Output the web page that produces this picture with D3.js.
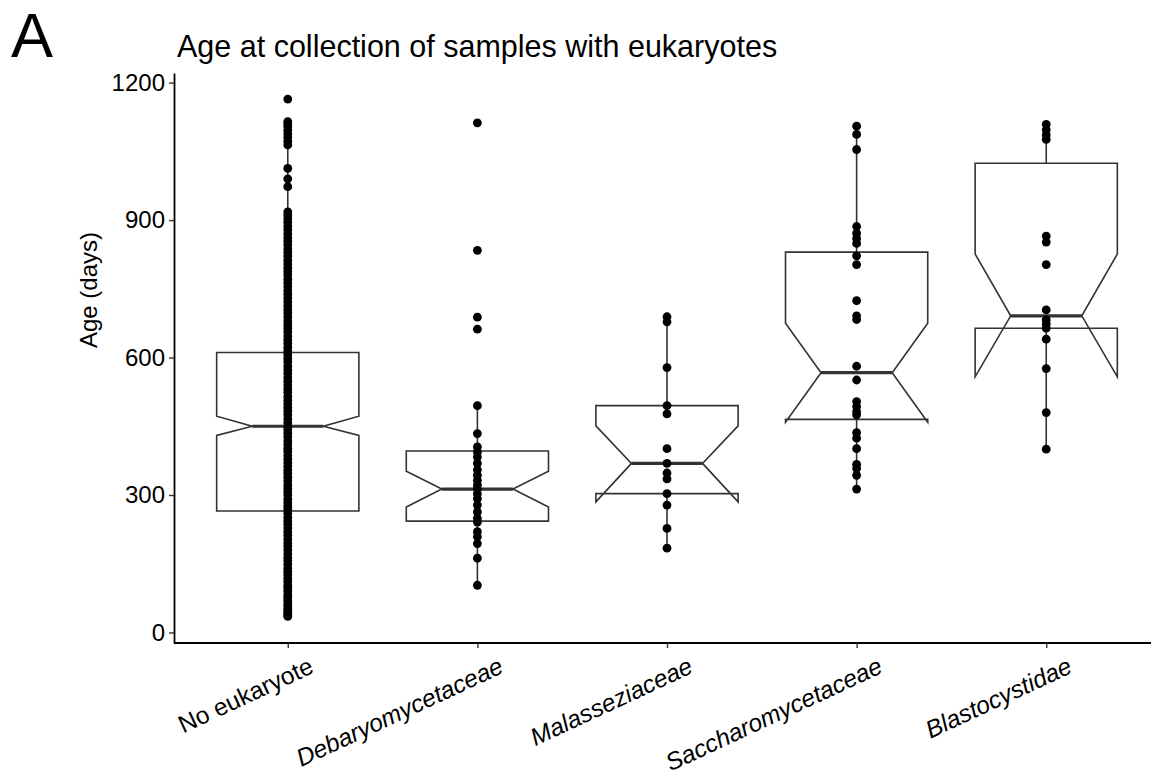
<!DOCTYPE html>
<html>
<head>
<meta charset="utf-8">
<script src="https://cdn.jsdelivr.net/npm/d3@7"></script>
<style>
  html, body { margin: 0; padding: 0; background: #fff; }
  svg { display: block; font-family: 'Liberation Sans', Arial, Helvetica, sans-serif; }
</style>
</head>
<body>
<div id="chart"></div>
<script>
const CATEGORIES = ['No eukaryote', 'Debaryomycetaceae', 'Malasseziaceae', 'Saccharomycetaceae', 'Blastocystidae']
const ITALIC = [false, true, true, true, true]

// box statistics (days)
const Q1 = [265, 243, 303, 465, 664]
const MEDIAN = [450, 313, 369, 567, 691]
const Q3 = [611, 396, 495, 830, 1024]
const NOTCH_LOW = [430, 274, 285, 459, 558]
const NOTCH_HIGH = [472, 352, 451, 675, 826]
const WHISKER_LOW = [34, 103, 184, 313, 400]
const WHISKER_HIGH = [1115, 495, 689, 1105, 1109]

// individual samples (days)
const NO_EUKARYOTE = [35, 38, 42, 47, 51, 58, 63, 70, 76, 82, 90, 97, 103, 111, 118, 126, 133, 140, 149, 157,
  163, 171, 180, 188, 195, 203, 212, 220, 228, 236, 243, 251, 260, 268, 275, 283, 291, 300, 307, 315,
  322, 331, 339, 347, 354, 362, 370, 378, 386, 395, 402, 410, 418, 427, 435, 443, 450, 458, 466, 475,
  483, 491, 499, 507, 515, 524, 532, 540, 548, 556, 565, 573, 581, 590, 598, 606, 614, 622, 631, 639,
  647, 656, 664, 672, 680, 689, 697, 705, 713, 722, 730, 738, 746, 755, 763, 771, 780, 788, 796, 804,
  812, 821, 829, 837, 846, 854, 862, 870, 879, 887, 895, 903, 911, 918, 973, 990, 1013, 1064, 1072,
  1080, 1088, 1096, 1104, 1110, 1115, 1164]
const DEBARYOMYCETACEAE = [1112, 834, 688, 662, 495, 434, 405, 394, 383, 369, 355, 343, 332, 322, 314, 303,
  292, 278, 263, 249, 241, 220, 209, 194, 162, 103]
const MALASSEZIACEAE = [689, 678, 578, 495, 477, 401, 369, 348, 335, 303, 278, 227, 184]
const SACCHAROMYCETACEAE = [1105, 1087, 1054, 886, 871, 860, 849, 822, 803, 724, 691, 683, 581, 551, 504,
  493, 482, 475, 436, 424, 401, 367, 358, 343, 313]
const BLASTOCYSTIDAE = [1109, 1097, 1086, 1076, 865, 852, 803, 704, 682, 673, 664, 640, 576, 480, 400]
const SAMPLES = [NO_EUKARYOTE, DEBARYOMYCETACEAE, MALASSEZIACEAE, SACCHAROMYCETACEAE, BLASTOCYSTIDAE]

const Y_TICKS = [0, 300, 600, 900, 1200]

const width = 1151
const height = 775
const panel = { left: 174, right: 1160, top: 73, bottom: 643 }
const boxColor = '#333333'

const svg = d3.select('#chart')
  .append('svg')
  .attr('width', width)
  .attr('height', height)

const x = d3.scalePoint()
  .domain(CATEGORIES)
  .range([panel.left, panel.right])
  .padding(0.6)

const y = d3.scaleLinear()
  .domain([-23, 1221])
  .range([panel.bottom, panel.top])

const half = x.step() * 0.75 / 2
const notchHalf = half * 0.5

const groups = CATEGORIES.map((c, i) => ({
  name: c,
  q1: Q1[i],
  med: MEDIAN[i],
  q3: Q3[i],
  nlo: NOTCH_LOW[i],
  nhi: NOTCH_HIGH[i],
  wlo: WHISKER_LOW[i],
  whi: WHISKER_HIGH[i],
  pts: SAMPLES[i]
}))

const g = svg.append('g')

// whiskers
g.selectAll('line.whisker')
  .data(groups)
  .join('line')
  .attr('class', 'whisker')
  .attr('x1', d => x(d.name))
  .attr('x2', d => x(d.name))
  .attr('y1', d => y(d.wlo))
  .attr('y2', d => y(d.whi))
  .attr('stroke', boxColor)
  .attr('stroke-width', 1.6)

// notched boxes (same outline as ggplot's notch polygon)
g.selectAll('path.box')
  .data(groups)
  .join('path')
  .attr('class', 'box')
  .attr('d', d => {
    const cx = x(d.name)
    const pts = [
      [cx - half, y(d.q3)], [cx - half, y(d.nhi)], [cx - notchHalf, y(d.med)],
      [cx - half, y(d.nlo)], [cx - half, y(d.q1)], [cx + half, y(d.q1)],
      [cx + half, y(d.nlo)], [cx + notchHalf, y(d.med)], [cx + half, y(d.nhi)],
      [cx + half, y(d.q3)]
    ]
    return d3.line()(pts) + 'Z'
  })
  .attr('fill', '#fff')
  .attr('stroke', boxColor)
  .attr('stroke-width', 1.6)
  .attr('stroke-linejoin', 'miter')

// medians
g.selectAll('line.median')
  .data(groups)
  .join('line')
  .attr('class', 'median')
  .attr('x1', d => x(d.name) - notchHalf)
  .attr('x2', d => x(d.name) + notchHalf)
  .attr('y1', d => y(d.med))
  .attr('y2', d => y(d.med))
  .attr('stroke', boxColor)
  .attr('stroke-width', 3.2)

// points
g.selectAll('g.pts')
  .data(groups)
  .join('g')
  .attr('class', 'pts')
  .selectAll('circle')
  .data(d => d.pts.map(v => ({ name: d.name, v })))
  .join('circle')
  .attr('cx', d => x(d.name))
  .attr('cy', d => y(d.v))
  .attr('r', 4.4)
  .attr('fill', '#000')

// axes
const yAxis = svg.append('g')
  .attr('transform', `translate(${panel.left},0)`)
  .call(d3.axisLeft(y).tickValues(Y_TICKS).tickFormat(d3.format('d'))
    .tickSize(5).tickSizeOuter(0).tickPadding(4))
yAxis.select('.domain').attr('stroke', '#000').attr('stroke-width', 1.8)
yAxis.selectAll('.tick line').attr('stroke', boxColor).attr('stroke-width', 1.4)
yAxis.selectAll('.tick text')
  .attr('font-size', 24)
  .attr('fill', '#000')
yAxis.attr('font-family', null)

const xAxis = svg.append('g')
  .attr('transform', `translate(0,${panel.bottom})`)
  .call(d3.axisBottom(x).tickSize(5).tickSizeOuter(0).tickFormat(''))
xAxis.select('.domain').attr('stroke', '#000').attr('stroke-width', 1.8)
  .attr('d', `M${panel.left},0H${panel.right}`)
xAxis.selectAll('.tick line').attr('stroke', boxColor).attr('stroke-width', 1.4)

svg.append('g')
  .selectAll('text')
  .data(CATEGORIES)
  .join('text')
  .attr('transform', d => `translate(${x(d) + 20},${panel.bottom + 13}) rotate(-25)`)
  .attr('text-anchor', 'end')
  .attr('dy', '0.72em')
  .attr('font-size', 24.5)
  .attr('font-style', (d, i) => ITALIC[i] ? 'italic' : 'normal')
  .attr('fill', '#000')
  .text(d => d)

// y axis title
svg.append('text')
  .attr('transform', 'translate(97,290) rotate(-90)')
  .attr('text-anchor', 'middle')
  .attr('font-size', 24)
  .attr('fill', '#000')
  .text('Age (days)')

// title and panel letter
svg.append('text')
  .attr('x', 177)
  .attr('y', 57)
  .attr('font-size', 30.5)
  .attr('fill', '#000')
  .text('Age at collection of samples with eukaryotes')

svg.append('text')
  .attr('x', 11)
  .attr('y', 57)
  .attr('font-size', 63)
  .attr('fill', '#000')
  .text('A')
</script>
</body>
</html>
